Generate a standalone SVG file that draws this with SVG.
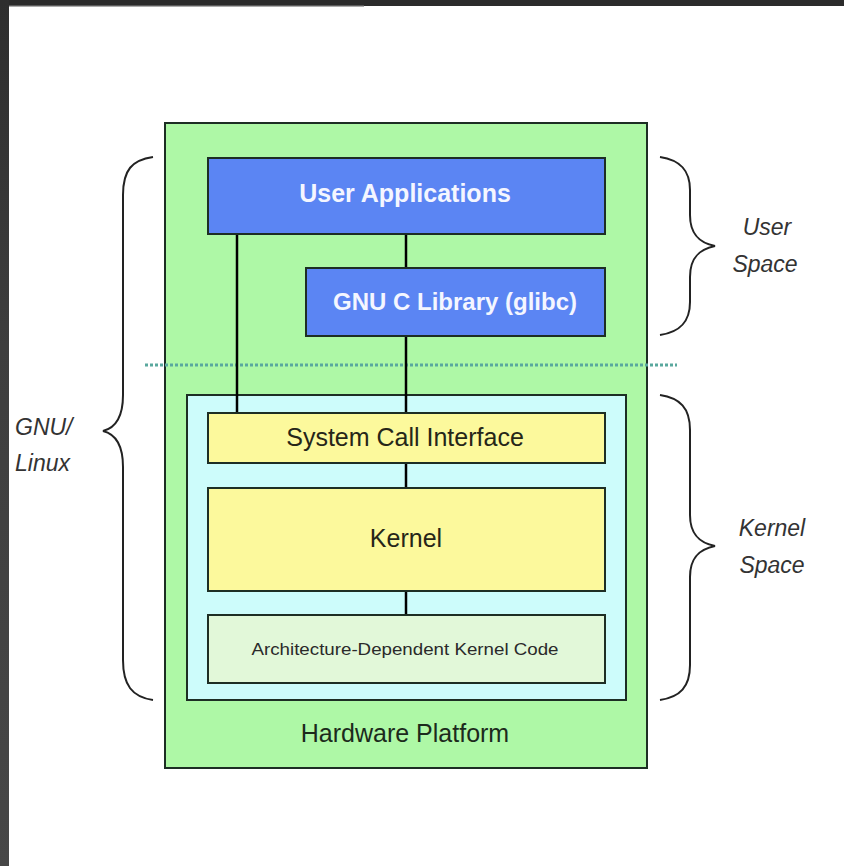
<svg xmlns="http://www.w3.org/2000/svg" width="844" height="866" viewBox="0 0 844 866">
<defs>
<style>
.box{stroke:#1d2e24;stroke-width:2}
.conn{stroke:#000;stroke-width:2.5;fill:none}
.brace{stroke:#222;stroke-width:2;fill:none}
.t{font-family:"Liberation Sans",Arial,sans-serif;text-anchor:middle}
.lbl{font-family:"Liberation Sans",Arial,sans-serif;font-style:italic;font-size:23px;fill:#333;text-anchor:middle}
.lbl.s{text-anchor:start}
</style>
<linearGradient id="lg" x1="0" y1="0" x2="0" y2="1">
<stop offset="0" stop-color="#2e2e2e"/>
<stop offset="0.4" stop-color="#3e3e3e"/>
<stop offset="1" stop-color="#474747"/>
</linearGradient>
</defs>
<rect width="844" height="866" fill="#fff"/>
<rect x="0" y="0" width="844" height="6" fill="#2b2b2b"/>
<rect x="9" y="5" width="355" height="1.5" fill="#5a5a5a"/>
<rect x="0" y="0" width="9" height="866" fill="url(#lg)"/>

<g id="hardware">
<rect class="box" x="165" y="123" width="482" height="645" fill="#aef8a6"/>
<text class="t" x="405" y="742" font-size="25" fill="#1c2a1c">Hardware Platform</text>
</g>
<g id="separator">
<line x1="145" y1="365" x2="677" y2="365" stroke="#5aa89e" stroke-width="3" stroke-dasharray="3,2"/>
</g>
<g id="kernel-space">
<rect class="box" x="187" y="395" width="439" height="305" fill="#cdfcfb"/>
</g>
<g id="connectors">
<line class="conn" x1="237" y1="234" x2="237" y2="413"/>
<line class="conn" x1="406" y1="234" x2="406" y2="268"/>
<line class="conn" x1="406" y1="336" x2="406" y2="413"/>
<line class="conn" x1="406" y1="463" x2="406" y2="488"/>
<line class="conn" x1="406" y1="591" x2="406" y2="615"/>
</g>
<g id="user-applications">
<rect class="box" x="208" y="158" width="397" height="76" fill="#5b85f3"/>
<text class="t" x="405" y="202" font-size="25" font-weight="bold" fill="#f4f6ff">User Applications</text>
</g>
<g id="glibc">
<rect class="box" x="306" y="268" width="299" height="68" fill="#5b85f3"/>
<text class="t" x="455" y="310" font-size="24" font-weight="bold" fill="#f4f6ff">GNU C Library (glibc)</text>
</g>
<g id="system-call-interface">
<rect class="box" x="208" y="413" width="397" height="50" fill="#fcf99c"/>
<text class="t" x="405" y="446" font-size="25" fill="#262618">System Call Interface</text>
</g>
<g id="kernel">
<rect class="box" x="208" y="488" width="397" height="103" fill="#fcf99c"/>
<text class="t" x="406" y="547" font-size="25" fill="#262618">Kernel</text>
</g>
<g id="arch-code">
<rect class="box" x="208" y="615" width="397" height="68" fill="#e2f8d9"/>
<text class="t" x="405" y="655" font-size="17" fill="#2a2a2a" textLength="307" lengthAdjust="spacingAndGlyphs">Architecture-Dependent Kernel Code</text>
</g>
<g id="gnu-linux">
<path class="brace" d="M153,157 C132,160 123,170 123,195 L123,395 C123,418 115,428 103,431 C115,434 123,444 123,467 L123,660 C123,685 132,697 153,700"/>
<text class="lbl s" x="15" y="435">GNU/</text>
<text class="lbl s" x="15" y="471">Linux</text>
</g>
<g id="user-space">
<path class="brace" d="M660,157 C680,160 690,170 690,190 L690,215 C690,235 700,243 715,246 C700,249 690,257 690,277 L690,302 C690,322 680,332 660,335"/>
<text class="lbl" x="767" y="235">User</text>
<text class="lbl" x="765" y="272">Space</text>
</g>
<g id="kernel-space-label">
<path class="brace" d="M660,395 C680,398 690,408 690,430 L690,515 C690,535 700,543 715,546 C700,549 690,557 690,577 L690,665 C690,687 680,697 660,700"/>
<text class="lbl" x="772" y="536">Kernel</text>
<text class="lbl" x="772" y="573">Space</text>
</g>
</svg>
